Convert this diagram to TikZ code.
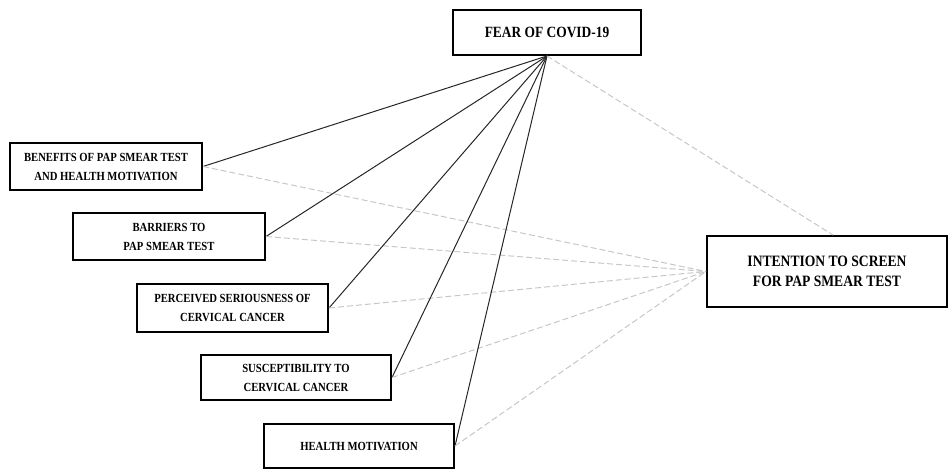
\documentclass[tikz,border=0pt]{standalone}
\usepackage{fontspec}
\setmainfont{Liberation Serif}[FakeStretch=0.86]
\begin{document}
\begin{tikzpicture}[x=0.5pt,y=-0.5pt,
    construct/.style={draw,line width=1pt,align=center,inner sep=1pt,
      font=\bfseries\fontsize{6.2}{9.5}\selectfont},
    direct/.style={line width=0.5pt,black!85},
    indirect/.style={line width=0.5pt,black!22,dash pattern=on 3pt off 1.5pt}]
      \useasboundingbox (0,0) rectangle (948,470);
      % mediator and outcome
      \node[construct,minimum width=94pt,minimum height=22.5pt,font=\bfseries\fontsize{7.8}{9}\selectfont] (fear) at (547,32.5) {FEAR OF COVID-19};
      \node[construct,minimum width=120pt,minimum height=35.5pt,font=\bfseries\fontsize{7.9}{10}\selectfont] (intent) at (827,271.5) {INTENTION TO SCREEN\\FOR PAP SMEAR TEST};
      % predictors
      \node[construct,minimum width=96pt,minimum height=23.5pt] (benefit) at (106,166.5) {BENEFITS OF PAP SMEAR TEST\\AND HEALTH MOTIVATION};
      \node[construct,minimum width=96pt,minimum height=23.5pt] (barrier) at (169,236.5) {BARRIERS TO\\PAP SMEAR TEST};
      \node[construct,minimum width=95.5pt,minimum height=24pt] (serious) at (232.5,308) {PERCEIVED SERIOUSNESS OF\\CERVICAL CANCER};
      \node[construct,minimum width=95pt,minimum height=22.5pt] (suscept) at (296,377.5) {SUSCEPTIBILITY TO\\CERVICAL CANCER};
      \node[construct,minimum width=95pt,minimum height=22pt] (motive) at (359,446) {HEALTH MOTIVATION};
      % paths
      \foreach \p in {benefit,barrier,serious,suscept,motive} {
        \draw[direct] (\p.east) -- (fear.south);
        \draw[indirect] (\p.east) -- (intent.west);
      }
      \draw[indirect] (fear.south) -- ([xshift=3pt]intent.north);
\end{tikzpicture}
\end{document}
